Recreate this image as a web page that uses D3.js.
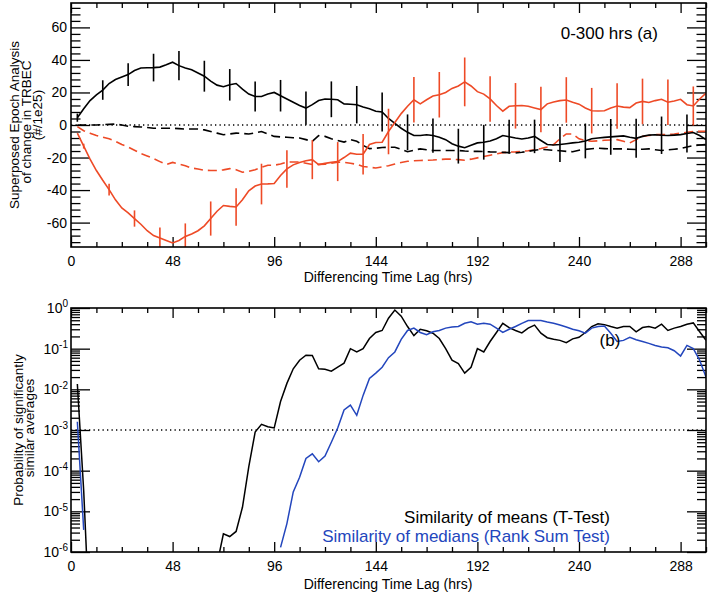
<!DOCTYPE html>
<html><head><meta charset="utf-8">
<script src="https://cdn.jsdelivr.net/npm/d3@7"></script>
<style>body{margin:0;background:#fff}svg{display:block}text{font-family:"Liberation Sans",Arial,Helvetica,sans-serif}</style>
</head><body><svg id="c" width="709" height="594"></svg>
<script>
// ---------- data ----------
const lagHours = [3,6,9,12,15,18,21,24,27,30,
33,36,39,42,45,48,51,54,57,60,
63,66,69,72,75,78,81,84,87,90,
93,96,99,102,105,108,111,114,117,120,
123,126,129,132,135,138,141,144,147,150,
153,156,159,162,165,168,171,174,177,180,
183,186,189,192,195,198,201,204,207,210,
213,216,219,222,225,228,231,234,237,240,
243,246,249,252,255,258,261,264,267,270,
273,276,279,282,285,288,291,294,297,300];

// Panel (a): superposed epoch analysis (#/1e25)
const blackMean = [4.5,10,15,18.5,21.5,25.5,28,29.5,31,33.5,
35,35.2,35.3,35.6,37,38.6,36.5,35,34,32,
30,27,24.5,23.5,24.7,25.5,22,19,17.5,17.5,
19,20,18,16,14,12,10.4,12.5,15,16,
15.8,15.5,13,12.8,12.5,11,10,8.5,8,4,
1,-2,-4.5,-6.5,-6.5,-6,-6.5,-7.5,-9,-11.5,
-13,-14,-12.5,-11,-10.6,-9.8,-8.5,-6.5,-7.2,-8,
-8.6,-8,-7,-9.5,-12,-12.3,-12,-11.5,-11,-10.6,
-9.8,-8.5,-8,-7.6,-7.3,-7,-6.7,-7.5,-8.2,-7,
-6.2,-6,-6.3,-6.5,-6.2,-5.9,-5.2,-4.6,-6.5,-9];

const redMean = [-5,-13,-21,-28,-34,-39.7,-46,-51,-54,-57.5,
-61,-65,-68,-69.5,-71,-72.5,-71,-68.5,-67,-65,
-62,-57.5,-53,-49.5,-50,-50.4,-46,-40.5,-37.5,-36.3,
-36.2,-36,-31,-27,-24.5,-23,-22,-21.3,-24.3,-23.6,
-23,-22.5,-20,-17.3,-18,-18,-12,-10.8,-10.6,-4,
1.5,7,11.5,15.5,13,15.5,17.8,18.6,20,22.5,
24,26.5,24,20.5,19,16,12,8.5,11.5,11.8,
12,11.5,10.5,9.5,13,14.2,15,15.4,14,12.8,
10.5,8.8,8.6,8.8,10.5,11.7,11,10.7,13.5,14.5,
13.8,15,15.8,14,14.8,15.8,12.5,11.7,16,19.6];

const blackMedian = [0,0,0,0,0.2,0.4,0.6,0,-0.8,-1,
-1.2,-1.5,-2,-2,-2,-2,-2.2,-2.5,-2.5,-2.5,
-3,-4,-5,-6,-5.5,-5,-5.2,-5.5,-4.8,-4,
-5.5,-7,-7.3,-7.5,-7.8,-8,-9,-10,-6.5,-7,
-8.5,-9.5,-10.5,-9,-10,-12.5,-14.5,-14.3,-13.8,-13.7,
-13.7,-15,-16.4,-15.5,-14.7,-15.2,-15.7,-15.7,-15.7,-15.7,
-15.7,-16,-16.2,-16.2,-16.3,-16.5,-16.6,-16.8,-17,-17.2,
-16.8,-16.2,-15.5,-15,-15.2,-15.6,-15.8,-16.2,-16.4,-15.5,
-15,-14.6,-14.3,-14.5,-14.7,-14.7,-14.7,-14.9,-15.1,-14.9,
-14.7,-15.2,-15.7,-15.3,-14.9,-14.5,-13.5,-12.7,-12.3,-12];

const redMedian = [-1,-3.5,-5,-6.5,-7.5,-8.5,-10,-12,-13.5,-15.5,
-17.6,-19,-20.6,-22.5,-24.3,-23,-24,-25,-26.5,-27,
-27.8,-28,-28,-27.6,-26.8,-27.5,-29,-28.5,-27.5,-26,
-24.7,-24.7,-24,-22.7,-22.7,-22.7,-23.5,-24.3,-24.2,-24.1,
-23.5,-22.8,-23,-23.5,-24.2,-25.5,-26,-26.4,-25.8,-25,
-24,-23,-22.3,-22,-21.8,-21.7,-21.5,-21.2,-21,-21,
-21.3,-21.7,-21,-20.2,-19.4,-18.6,-17.8,-17,-16.7,-16.5,
-16.2,-15.8,-15.2,-14.5,-13.5,-12,-8.5,-5.5,-5.5,-8.5,
-9.5,-10,-9.7,-9.4,-9.2,-9,-10,-11,-9,-7,
-6.5,-5.9,-5.9,-5.9,-5.5,-5,-4.5,-4,-3.9,-3.8];

const blackErrLags = [3,15,27,39,51,63,75,87,99,111,123,135,147,159,171,183,195,207,219,231,243,255,267,279,291];
const blackErr = [2.5,6,7,8.5,9,9.5,9.7,9.2,9.7,10.2,11,11.5,12,11,10.5,10.7,10.7,10.5,10.3,10.7,10.7,11,12,11.5,11.7];
const redErrLags = [6,18,30,42,54,66,78,90,102,114,126,138,150,162,174,186,198,210,222,234,246,258,270,282,294];
const redErr = [1.5,3.6,5,6.5,8,10.5,11.5,12.5,11.5,12,12,12.5,14,14,14,15,14,14,14,14,14,14,14,14,12];

// Panel (b): probabilities (1e-8 = below plotted range, null = not drawn)
const tTestProb = [1.35e-2,3.2e-5,1e-8,1e-8,1e-8,1e-8,1e-8,1e-8,1e-8,1e-8,
1e-8,1e-8,1e-8,1e-8,1e-8,1e-8,1e-8,1e-8,1e-8,1e-8,
1e-8,1e-8,5e-7,2.8e-6,2.4e-6,3.2e-6,1.26e-5,1.26e-4,8.9e-4,1.38e-3,
1.2e-3,1.12e-3,5e-3,1.4e-2,3.2e-2,5.2e-2,6.9e-2,6.8e-2,3.2e-2,3.1e-2,
2.8e-2,3.5e-2,4.4e-2,1.0e-1,8.3e-2,1.0e-1,1.78e-1,2.5e-1,2.8e-1,5.6e-1,
8.9e-1,6.3e-1,3.5e-1,2.1e-1,3.0e-1,2.75e-1,2.4e-1,1.78e-1,1.0e-1,5.2e-2,
4.3e-2,2.5e-2,3.5e-2,1.0e-1,8.3e-2,1.5e-1,2.5e-1,4.2e-1,3.3e-1,2.8e-1,
2.45e-1,3.2e-1,3.8e-1,2.4e-1,1.86e-1,1.7e-1,1.6e-1,1.4e-1,1.74e-1,1.9e-1,
2.5e-1,3.5e-1,4.1e-1,3.9e-1,3.5e-1,3.2e-1,3.5e-1,3.5e-1,2.6e-1,3.3e-1,
3.5e-1,3.2e-1,4.0e-1,2.8e-1,3.2e-1,3.5e-1,4.0e-1,4.3e-1,2.6e-1,1.6e-1];

const rankSumProb = [1.6e-3,3.5e-6,null,null,null,null,null,null,null,null,
null,null,null,null,null,null,null,null,null,null,
null,null,null,null,null,null,null,null,null,null,
null,null,1.3e-6,5e-6,3e-5,6.9e-5,2e-4,2.6e-4,1.66e-4,2.3e-4,
5e-4,1.12e-3,3.1e-3,4.1e-3,2.3e-3,7.1e-3,1.86e-2,2.5e-2,3.5e-2,6e-2,
8.3e-2,1.7e-1,2.8e-1,3.2e-1,2.5e-1,2.2e-1,2.6e-1,2.8e-1,3.2e-1,3.4e-1,
3.5e-1,4.2e-1,4.6e-1,4.0e-1,4.2e-1,4.0e-1,3.2e-1,2.5e-1,3.0e-1,3.5e-1,
4.2e-1,4.9e-1,4.9e-1,4.9e-1,4.5e-1,4.2e-1,3.8e-1,3.4e-1,3.0e-1,2.75e-1,
2.4e-1,3.2e-1,3.5e-1,3.6e-1,2.4e-1,1.5e-1,1.6e-1,1.9e-1,1.66e-1,1.5e-1,
1.35e-1,1.2e-1,1.1e-1,1.05e-1,8.9e-2,6.6e-2,1.2e-1,1.0e-1,5.2e-2,2e-2];

const xMajorTicks = [0,48,96,144,192,240,288];
const xTickLabels = ["0","48","96","144","192","240","288"];
const xMinorTicks = [12,24,36,60,72,84,108,120,132,156,168,180,204,216,228,252,264,276,300];
const yTopTicks = [-60,-40,-20,0,20,40,60];
const yTopLabels = ["-60","-40","-20","0","20","40","60"];
const yTopMinor = [-72,-68,-64,-56,-52,-48,-44,-36,-32,-28,-24,-16,-12,-8,-4,4,8,12,16,24,28,32,36,44,48,52,56,64,68,72];
const yLogTicks = [1e-6,1e-5,1e-4,1e-3,1e-2,1e-1,1];
const yLogExponents = ["-6","-5","-4","-3","-2","-1","0"];
const significanceLevel = 1e-3;

// ---------- drawing ----------
const RED = "#ee4a26", BLUE = "#2346bd", FONT = "'Liberation Sans',Arial,Helvetica,sans-serif";
const svg = d3.select("#c");
svg.append("rect").attr("width",709).attr("height",594).attr("fill","#fff");

const L = 71, R = 706;
const A = {t:3, b:247}, B = {t:308, b:552};
const x = d3.scaleLinear().domain([0,300]).range([L,R]);
const yA = d3.scaleLinear().domain([-75,75]).range([A.b,A.t]);
const yB = d3.scaleLog().domain([1e-6,1]).range([B.b,B.t]);

const defs = svg.append("defs");
defs.append("clipPath").attr("id","clipA").append("rect").attr("x",L).attr("y",A.t).attr("width",R-L).attr("height",A.b-A.t);
defs.append("clipPath").attr("id","clipB").append("rect").attr("x",L).attr("y",B.t).attr("width",R-L).attr("height",B.b-B.t);

function styleAxis(g){
  g.select(".domain").remove();
  g.attr("font-family",FONT).attr("font-size",14);
  g.selectAll("line").attr("stroke","#000").attr("stroke-width",1.3);
  g.selectAll("text").attr("fill","#000");
}
function xAxes(P){
  svg.append("g").attr("transform",`translate(0,${P.b})`)
    .call(d3.axisBottom(x).tickValues(xMajorTicks).tickSize(-10).tickPadding(9).tickFormat((d,i)=>xTickLabels[i])).call(styleAxis);
  svg.append("g").attr("transform",`translate(0,${P.b})`)
    .call(d3.axisBottom(x).tickValues(xMinorTicks).tickSize(-5).tickFormat("")).call(styleAxis);
  svg.append("g").attr("transform",`translate(0,${P.t})`)
    .call(d3.axisTop(x).tickValues(xMajorTicks).tickSize(-10).tickFormat("")).call(styleAxis);
  svg.append("g").attr("transform",`translate(0,${P.t})`)
    .call(d3.axisTop(x).tickValues(xMinorTicks).tickSize(-5).tickFormat("")).call(styleAxis);
}
xAxes(A); xAxes(B);

// panel a y axes
svg.append("g").attr("transform",`translate(${L},0)`)
  .call(d3.axisLeft(yA).tickValues(yTopTicks).tickSize(-19).tickPadding(4).tickFormat((d,i)=>yTopLabels[i])).call(styleAxis);
svg.append("g").attr("transform",`translate(${L},0)`)
  .call(d3.axisLeft(yA).tickValues(yTopMinor).tickSize(-9.5).tickFormat("")).call(styleAxis);
svg.append("g").attr("transform",`translate(${R},0)`)
  .call(d3.axisRight(yA).tickValues(yTopTicks).tickSize(-19).tickFormat("")).call(styleAxis);
svg.append("g").attr("transform",`translate(${R},0)`)
  .call(d3.axisRight(yA).tickValues(yTopMinor).tickSize(-9.5).tickFormat("")).call(styleAxis);

// panel b y axes (log)
const logMinor = [];
yLogTicks.slice(0,-1).forEach(d=>{ for(let k=2;k<=9;k++) logMinor.push(d*k); });
const gl = svg.append("g").attr("transform",`translate(${L},0)`)
  .call(d3.axisLeft(yB).tickValues(yLogTicks).tickSize(-19).tickPadding(3).tickFormat(()=>"")).call(styleAxis);
gl.selectAll(".tick text").each(function(d,i){
  const t = d3.select(this);
  t.append("tspan").text("10");
  t.append("tspan").attr("font-size",10).attr("dy","-0.55em").text(yLogExponents[yLogTicks.indexOf(d)]);
});
svg.append("g").attr("transform",`translate(${L},0)`)
  .call(d3.axisLeft(yB).tickValues(logMinor).tickSize(-9).tickFormat("")).call(styleAxis);
svg.append("g").attr("transform",`translate(${R},0)`)
  .call(d3.axisRight(yB).tickValues(yLogTicks).tickSize(-19).tickFormat("")).call(styleAxis);
svg.append("g").attr("transform",`translate(${R},0)`)
  .call(d3.axisRight(yB).tickValues(logMinor).tickSize(-9).tickFormat("")).call(styleAxis);

// reference lines
svg.append("line").attr("x1",L).attr("x2",R).attr("y1",yA(0)).attr("y2",yA(0))
  .attr("stroke","#000").attr("stroke-width",1.4).attr("stroke-dasharray","1.3,3.2");
svg.append("line").attr("x1",L).attr("x2",R).attr("y1",yB(significanceLevel)).attr("y2",yB(significanceLevel))
  .attr("stroke","#000").attr("stroke-width",1.4).attr("stroke-dasharray","1.3,3.2");

// panel a curves
const gA = svg.append("g").attr("clip-path","url(#clipA)");
const lineA = d3.line().x((d,i)=>x(lagHours[i])).y(d=>yA(d));
gA.append("path").datum(redMedian).attr("d",lineA).attr("fill","none").attr("stroke",RED).attr("stroke-width",1.6).attr("stroke-dasharray","9,5");
gA.append("path").datum(blackMedian).attr("d",lineA).attr("fill","none").attr("stroke","#000").attr("stroke-width",1.6).attr("stroke-dasharray","9,5");
gA.append("path").datum(blackMean).attr("d",lineA).attr("fill","none").attr("stroke","#000").attr("stroke-width",1.6);
gA.append("path").datum(redMean).attr("d",lineA).attr("fill","none").attr("stroke",RED).attr("stroke-width",1.6);
function errBars(lags, errs, series, color){
  gA.selectAll(null).data(lags).enter().append("line")
    .attr("x1",d=>x(d)).attr("x2",d=>x(d))
    .attr("y1",(d,i)=>yA(series[lagHours.indexOf(d)]+errs[i]))
    .attr("y2",(d,i)=>yA(series[lagHours.indexOf(d)]-errs[i]))
    .attr("stroke",color).attr("stroke-width",1.6);
}
errBars(blackErrLags, blackErr, blackMean, "#000");
errBars(redErrLags, redErr, redMean, RED);

// panel b curves
const gB = svg.append("g").attr("clip-path","url(#clipB)");
const lineB = d3.line().defined(d=>d!=null).x((d,i)=>x(lagHours[i])).y(d=>yB(d));
gB.append("path").datum(tTestProb).attr("d",lineB).attr("fill","none").attr("stroke","#000").attr("stroke-width",1.5);
gB.append("path").datum(rankSumProb).attr("d",lineB).attr("fill","none").attr("stroke",BLUE).attr("stroke-width",1.5);

// frames
[A,B].forEach(P=>svg.append("rect").attr("x",L).attr("y",P.t).attr("width",R-L).attr("height",P.b-P.t)
  .attr("fill","none").attr("stroke","#000").attr("stroke-width",1.6));

// texts
function txt(s,xp,yp,opt={}){
  const t = svg.append("text").attr("x",xp).attr("y",yp).text(s)
    .attr("font-family",FONT).attr("font-size",opt.size||14).attr("fill",opt.color||"#000")
    .attr("text-anchor",opt.anchor||"middle");
  if(opt.rot) t.attr("transform",`rotate(-90,${xp},${yp})`);
  return t;
}
txt("Differencing Time Lag (hrs)", 388, 282);
txt("Differencing Time Lag (hrs)", 388, 589);
txt("Superposed Epoch Analysis", 19, 125, {rot:true, size:13.5});
txt("of change in TRBEC", 30.5, 122, {rot:true, size:13.5});
txt("(#/1e25)", 42, 115, {rot:true, size:13.5});
txt("Probability of significantly", 23, 430, {rot:true, size:13.5});
txt("similar averages", 33.5, 428, {rot:true, size:13.5});
txt("0-300 hrs (a)", 658, 39, {anchor:"end", size:17});
txt("(b)", 610, 346, {size:17});
txt("Similarity of means (T-Test)", 610, 522.5, {anchor:"end", size:17});
txt("Similarity of medians (Rank Sum Test)", 610, 541.5, {anchor:"end", size:17, color:BLUE});
</script></body></html>
